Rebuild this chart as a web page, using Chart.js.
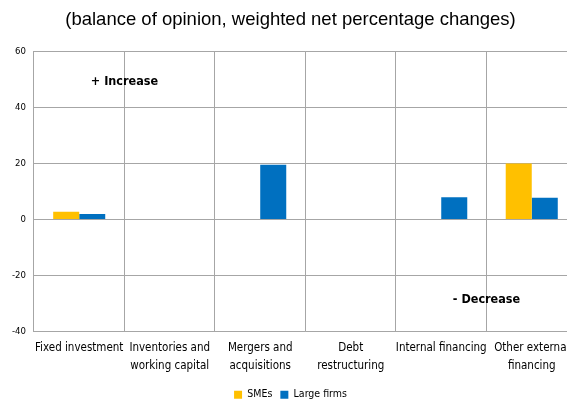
<!DOCTYPE html>
<html>
<head>
<meta charset="utf-8">
<script src="https://cdn.jsdelivr.net/npm/chart.js@4/dist/chart.umd.min.js"></script>
<style>
  html, body { margin: 0; padding: 0; background: #fff; overflow: hidden; }
  #wrap { width: 592px; height: 410px; }
</style>
</head>
<body>
<div id="wrap"><canvas id="chart" width="592" height="410"></canvas></div>
<script>
const categories = [
  "Fixed investment",
  ["Inventories and", "working capital"],
  ["Mergers and", "acquisitions"],
  ["Debt", "restructuring"],
  "Internal financing",
  ["Other external", "financing"],
];

const smes = [2.8, 0, 0, 0, 0, 20];
const largeFirms = [2.0, 0, 19.5, 0, 8, 7.8];

// text notes inside the plot: [text, category index (between), value]
const notes = [
  ["+ Increase", 0.5, 49],
  ["- Decrease", 4.5, -28.5],
];

const narrow = "'DejaVu Sans Condensed', 'Liberation Sans', Arial, sans-serif";

const notePlugin = {
  id: "notes",
  afterDatasetsDraw(chart) {
    const ctx = chart.ctx;
    const x = chart.scales.x;
    const y = chart.scales.y;
    ctx.save();
    ctx.fillStyle = "#000";
    ctx.font = "bold 12.5px " + narrow;
    ctx.textAlign = "center";
    ctx.textBaseline = "middle";
    notes.forEach(n => {
      const px = x.getPixelForValue(n[1]);
      ctx.fillText(n[0], px, y.getPixelForValue(n[2]));
    });
    ctx.restore();
  },
};

const data_chart = {
  labels: categories,
  datasets: [
    {
      label: "SMEs",
      backgroundColor: "#FFC000",
      data: smes,
    },
    {
      label: "Large firms",
      backgroundColor: "#0070C0",
      data: largeFirms,
    },
  ],
};

const config_chart = {
  type: "bar",
  data: data_chart,
  options: {
    responsive: false,
    animation: false,
    layout: { padding: { left: 4, right: 15, top: 0, bottom: 0 } },
    datasets: {
      bar: { categoryPercentage: 0.575, barPercentage: 1.0 },
    },
    plugins: {
      title: {
        display: true,
        text: "(balance of opinion, weighted net percentage changes)",
        color: "#000",
        font: { family: "'Liberation Sans', Arial, sans-serif", size: 18.5, weight: "normal" },
        padding: { top: 9, bottom: 20 },
      },
      legend: {
        position: "bottom",
        labels: {
          boxWidth: 8,
          boxHeight: 8,
          color: "#000",
          font: { family: narrow, size: 10.5 },
          padding: 8,
        },
      },
      tooltip: { enabled: false },
    },
    scales: {
      x: {
        grid: { color: "#a6a6a6", offset: true, drawTicks: false },
        border: { color: "#a6a6a6" },
        ticks: {
          color: "#000",
          maxRotation: 0,
          autoSkip: false,
          padding: 7,
          font: { family: narrow, size: 11.5, lineHeight: 1.55 },
        },
      },
      y: {
        min: -40,
        max: 60,
        grid: { color: "#a6a6a6", drawTicks: false },
        border: { color: "#a6a6a6" },
        ticks: {
          stepSize: 20,
          color: "#000",
          padding: 8,
          font: { family: narrow, size: 9.5 },
        },
      },
    },
  },
  plugins: [notePlugin],
};

const chart = new Chart(document.getElementById("chart"), config_chart);
</script>
</body>
</html>
